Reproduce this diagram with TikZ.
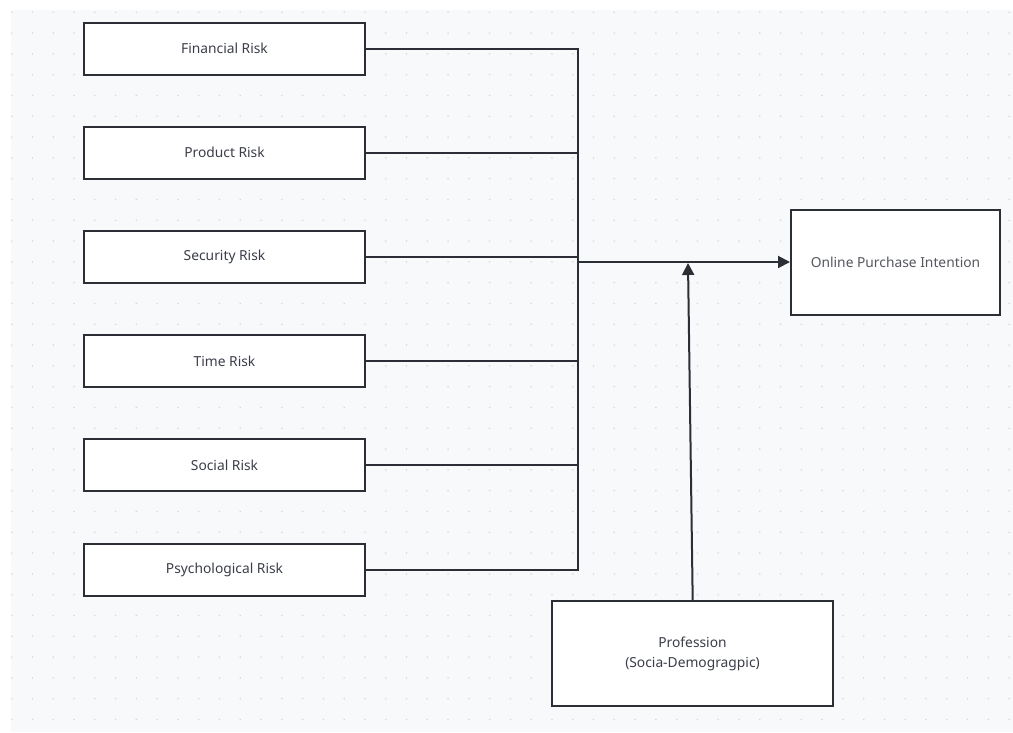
\documentclass[tikz,border=0pt]{standalone}
\usepackage{fontspec}
\setmainfont{Noto Sans}
\usetikzlibrary{arrows.meta,calc}
\definecolor{bgc}{HTML}{F8F9FB}
\definecolor{dotc}{HTML}{D9DADF}
\definecolor{linec}{HTML}{2B2E35}
\definecolor{txtc}{HTML}{3A3E48}
\definecolor{txtl}{HTML}{55585F}
\tikzset{
  riskbox/.style={draw=linec, line width=2pt, fill=white, minimum width=281pt, minimum height=52pt, inner sep=0pt, text=txtc, font=\fontsize{13.8}{16}\selectfont},
  bigbox/.style={draw=linec, line width=2pt, fill=white, minimum height=105pt, inner sep=0pt, text=txtc, align=center, font=\fontsize{13.8}{20}\selectfont},
  conn/.style={draw=linec, line width=2pt},
  arr/.style={conn, -{Triangle[length=12pt,width=12pt]}}
}
\begin{document}
\begin{tikzpicture}[x=1pt,y=-1pt]
\useasboundingbox (0,0) rectangle (1013,732);
\fill[white] (0,0) rectangle (1013,732);
\fill[bgc] (11,10) rectangle (1013,732);
\foreach \i in {0,...,48} {
  \foreach \j in {0,...,34} {
    \fill[dotc] ({11.7+20.78*\i},{12.3+20.8*\j}) circle (0.9pt);
  }
}
\node[riskbox] (fin) at (224.5,48.7) {Financial Risk};
\node[riskbox] (prod) at (224.5,152.8) {Product Risk};
\node[riskbox] (sec) at (224.5,257) {Security Risk};
\node[riskbox] (time) at (224.5,361.2) {Time Risk};
\node[riskbox] (soc) at (224.5,465.4) {Social Risk};
\node[riskbox] (psy) at (224.5,569.6) {Psychological Risk};
\node[bigbox, minimum width=209pt, text=txtl] (opi) at (895.5,262.5) {Online Purchase Intention};
\node[bigbox, minimum width=281pt] (prof) at (692.5,653.5) {Profession\\(Socia-Demogragpic)};
\coordinate (jt) at (578,48.7);
\coordinate (jb) at (578,569.6);
\coordinate (jm) at (578,262);
\coordinate (ah) at (688,263);
\draw[conn, line join=miter] (fin.east) -- (jt) -- (jb) -- (psy.east);
\draw[conn] (prod.east) -- (prod.east -| jt);
\draw[conn] (sec.east) -- (sec.east -| jt);
\draw[conn] (time.east) -- (time.east -| jt);
\draw[conn] (soc.east) -- (soc.east -| jt);
\draw[arr] (jm) -- (opi.west |- jm);
\draw[arr] ($(prof.north)+(0.2,0)$) -- (ah);
\end{tikzpicture}
\end{document}
